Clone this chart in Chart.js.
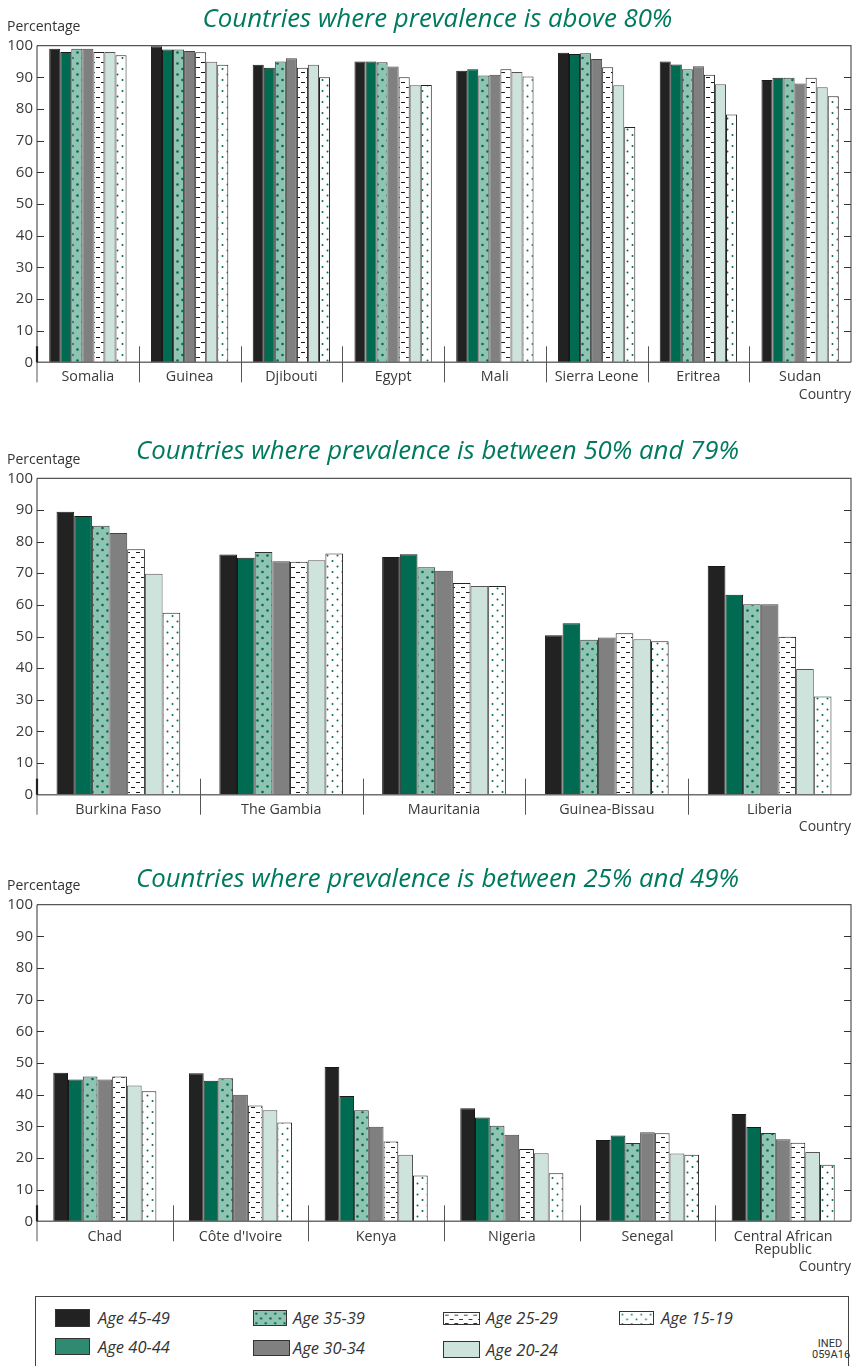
<!DOCTYPE html>
<html>
<head>
<meta charset="utf-8">
<script src="https://cdn.jsdelivr.net/npm/chart.js@4.4.1/dist/chart.umd.min.js"></script>
<style>
  html, body { margin: 0; padding: 0; background: #fff; }
  body { width: 852px; height: 1366px; position: relative; overflow: hidden; font-family: 'Open Sans', 'Noto Sans', sans-serif; }
  canvas.chart { position: absolute; left: 0; }
  .title { position: absolute; left: 0; width: 875px; text-align: center; font-style: italic; color: #007a5e; font-size: 25.8px; line-height: 30px; white-space: nowrap; }
  .ylab { position: absolute; left: 7px; font-size: 14px; line-height: 16px; color: #333; }
  #legend { position: absolute; left: 35px; top: 1296px; width: 814px; height: 90px; border: 1.5px solid #444; box-sizing: border-box; }
  .sw { position: absolute; box-sizing: border-box; border: 1px solid #333; }
  .lt { position: absolute; font-style: italic; font-size: 16.5px; line-height: 18px; color: #333; white-space: nowrap; }
  .ined { position: absolute; font-family: 'Liberation Sans Narrow', 'Roboto', sans-serif; font-size: 11px; line-height: 11px; color: #333; text-align: center; }
</style>
</head>
<body>
<canvas id="c1" class="chart" width="852" height="415" style="top:0px"></canvas>
<canvas id="c2" class="chart" width="852" height="430" style="top:415px"></canvas>
<canvas id="c3" class="chart" width="852" height="440" style="top:845px"></canvas>

<div class="title" style="top:2px">Countries where prevalence is above 80%</div>
<div class="title" style="top:434px">Countries where prevalence is between 50% and 79%</div>
<div class="title" style="top:862px">Countries where prevalence is between 25% and 49%</div>
<div class="ylab" style="top:18px">Percentage</div>
<div class="ylab" style="top:451px">Percentage</div>
<div class="ylab" style="top:877px">Percentage</div>

<div id="legend"></div>

<script>
// ---------- DATA ----------
const ageGroups = ['Age 45-49', 'Age 40-44', 'Age 35-39', 'Age 30-34', 'Age 25-29', 'Age 20-24', 'Age 15-19'];
const yTicks = [0, 10, 20, 30, 40, 50, 60, 70, 80, 90, 100];

// Panel 1: prevalence above 80%
const countries1 = ['Somalia', 'Guinea', 'Djibouti', 'Egypt', 'Mali', 'Sierra Leone', 'Eritrea', 'Sudan'];
const p1_age4549 = [99, 99.8, 94, 95, 92.1, 97.8, 95, 89.2];
const p1_age4044 = [98, 98.8, 93, 95, 92.6, 97.4, 94.1, 89.9];
const p1_age3539 = [99, 98.8, 95, 94.8, 90.6, 97.6, 92.6, 89.9];
const p1_age3034 = [99, 98.3, 96, 93.4, 90.8, 95.8, 93.5, 88.1];
const p1_age2529 = [98, 97.9, 93, 90, 92.6, 93.2, 90.8, 89.9];
const p1_age2024 = [98, 94.9, 94, 87.5, 91.7, 87.5, 87.8, 86.9];
const p1_age1519 = [97, 94, 90, 87.6, 90.3, 74.3, 78.3, 84];

// Panel 2: prevalence between 50% and 79%
const countries2 = ['Burkina Faso', 'The Gambia', 'Mauritania', 'Guinea-Bissau', 'Liberia'];
const p2_age4549 = [89.4, 75.9, 75.1, 50.4, 72.3];
const p2_age4044 = [88.1, 74.9, 76.0, 54.2, 63.2];
const p2_age3539 = [85.0, 76.7, 71.9, 49.0, 60.2];
const p2_age3034 = [82.7, 73.8, 70.8, 49.7, 60.2];
const p2_age2529 = [77.6, 73.6, 66.9, 51.0, 49.9];
const p2_age2024 = [69.8, 74.1, 66.0, 49.1, 39.7];
const p2_age1519 = [57.5, 76.2, 66.0, 48.5, 31.0];

// Panel 3: prevalence between 25% and 49%
const countries3 = ['Chad', "Côte d'Ivoire", 'Kenya', 'Nigeria', 'Senegal', ['Central African', 'Republic']];
const p3_age4549 = [46.9, 46.8, 48.7, 35.7, 25.7, 33.9];
const p3_age4044 = [44.8, 44.4, 39.6, 32.8, 27.1, 29.8];
const p3_age3539 = [45.7, 45.2, 35.1, 30.2, 24.7, 27.9];
const p3_age3034 = [44.8, 40.0, 29.9, 27.3, 28.1, 25.9];
const p3_age2529 = [45.7, 36.6, 25.2, 22.8, 27.8, 24.8];
const p3_age2024 = [42.9, 35.1, 21.0, 21.5, 21.4, 21.9];
const p3_age1519 = [41.1, 31.2, 14.5, 15.2, 21.0, 17.9];

// ---------- STYLES ----------
function tile(w, h, draw) {
  const c = document.createElement('canvas');
  c.width = w; c.height = h;
  const g = c.getContext('2d');
  draw(g);
  return c;
}
function dots(bg, col, r, pts) {
  return tile(10, 11, g => {
    g.fillStyle = bg; g.fillRect(0, 0, 10, 11);
    g.fillStyle = col;
    pts.forEach(([x, y]) => { g.beginPath(); g.arc(x, y, r, 0, Math.PI * 2); g.fill(); });
  });
}
const tile3539 = dots('#8fc4b3', '#006b50', 1.3, [[2.5, 3], [7.5, 8.5]]);
const tile1519 = dots('#ffffff', '#006b50', 1.0, [[2.5, 3], [7.5, 8.5]]);
const tile2529 = tile(10, 10, g => {
  g.fillStyle = '#fff'; g.fillRect(0, 0, 10, 10);
  g.fillStyle = '#1a1a1a';
  g.fillRect(1, 2, 4, 1);
  g.fillRect(6, 7, 4, 1);
});
const pctx = document.createElement('canvas').getContext('2d');
const fills = [
  '#222222',
  '#006b50',
  pctx.createPattern(tile3539, 'repeat'),
  '#808080',
  pctx.createPattern(tile2529, 'repeat'),
  '#cde3dc',
  pctx.createPattern(tile1519, 'repeat')
];
const borders = ['#1a1a1a', '#1a1a1a', '#333', '#444', '#222', '#555', '#222'];

function datasets(series) {
  return series.map((d, i) => ({
    label: ageGroups[i],
    data: d,
    backgroundColor: fills[i],
    borderColor: borders[i],
    borderWidth: 1,
    borderSkipped: 'start',
    barPercentage: 1,
    categoryPercentage: 0.76
  }));
}

const framePlugin = {
  id: 'frame',
  afterDatasetsDraw(chart) {
    const { ctx, chartArea: { left, right, top, bottom }, scales: { x, y } } = chart;
    ctx.save();
    ctx.strokeStyle = '#555';
    ctx.lineWidth = 1.2;
    ctx.beginPath();
    ctx.moveTo(left, top); ctx.lineTo(right, top); ctx.lineTo(right, bottom);
    ctx.stroke();
    ctx.strokeStyle = '#333';
    ctx.lineWidth = 1;
    ctx.beginPath();
    ctx.moveTo(left, top); ctx.lineTo(left, bottom);
    ctx.stroke();
    ctx.beginPath();
    yTicks.forEach(v => {
      if (v === 0 || v === 100) return;
      const py = Math.round(y.getPixelForValue(v)) + 0.5;
      ctx.moveTo(left, py); ctx.lineTo(left + 7, py);
      ctx.moveTo(right, py); ctx.lineTo(right - 7, py);
    });
    ctx.stroke();
    ctx.strokeStyle = '#6f6f6f';
    ctx.lineWidth = 1.6;
    ctx.beginPath();
    ctx.moveTo(left, bottom); ctx.lineTo(right, bottom);
    ctx.stroke();
    ctx.strokeStyle = '#555';
    ctx.lineWidth = 1;
    ctx.beginPath();
    const n = chart.data.labels.length;
    for (let i = 0; i < n; i++) {
      const px = i === 0 ? left : Math.round((x.getPixelForValue(i - 1) + x.getPixelForValue(i)) / 2) + 0.5;
      ctx.moveTo(px, bottom - 16); ctx.lineTo(px, bottom + 20);
    }
    ctx.stroke();
    ctx.strokeStyle = '#222';
    ctx.lineWidth = 2.2;
    ctx.beginPath();
    ctx.moveTo(left, bottom - 16); ctx.lineTo(left, bottom);
    ctx.stroke();
    ctx.restore();
  }
};

function makeChart(id, labels, series, cfg) {
  const canvas = document.getElementById(id);
  const H = canvas.height;
  return new Chart(canvas, {
    type: 'bar',
    data: { labels: labels, datasets: datasets(series) },
    options: {
      responsive: false,
      animation: false,
      devicePixelRatio: 1,
      events: [],
      layout: { padding: { top: cfg.plotTop, right: 1, left: 0, bottom: 0 } },
      plugins: { legend: { display: false }, tooltip: { enabled: false }, title: { display: false } },
      scales: {
        x: {
          type: 'category',
          offset: true,
          grid: { display: false, drawTicks: false },
          border: { display: false },
          ticks: {
            color: '#3a3a3a',
            padding: cfg.labelPad,
            maxRotation: 0,
            autoSkip: false,
            font: { family: "'Open Sans', sans-serif", size: 14.3, lineHeight: cfg.lineHeight }
          },
          title: {
            display: true,
            text: 'Country',
            align: 'end',
            color: '#3a3a3a',
            font: { family: "'Open Sans', sans-serif", size: 14, lineHeight: 1.2 },
            padding: { top: 0, bottom: cfg.countryPad }
          },
          afterFit: s => { s.height = H - cfg.plotBottom; }
        },
        y: {
          min: 0, max: 100,
          grid: { display: false, drawTicks: false },
          border: { display: false },
          ticks: {
            stepSize: 10,
            padding: 4,
            color: '#3a3a3a',
            font: { family: "'Open Sans', sans-serif", size: 15 }
          },
          afterFit: s => { s.width = 37; }
        }
      }
    },
    plugins: [framePlugin]
  });
}

makeChart('c1', countries1,
  [p1_age4549, p1_age4044, p1_age3539, p1_age3034, p1_age2529, p1_age2024, p1_age1519],
  { plotTop: 45.7, plotBottom: 362.3, labelPad: 6.3, lineHeight: 1.2, countryPad: 11.6 });
makeChart('c2', countries2,
  [p2_age4549, p2_age4044, p2_age3539, p2_age3034, p2_age2529, p2_age2024, p2_age1519],
  { plotTop: 63.3, plotBottom: 379.7, labelPad: 6.8, lineHeight: 1.2, countryPad: 9.9 });
makeChart('c3', countries3,
  [p3_age4549, p3_age4044, p3_age3539, p3_age3034, p3_age2529, p3_age2024, p3_age1519],
  { plotTop: 59.7, plotBottom: 376.3, labelPad: 8.7, lineHeight: 0.95, countryPad: 9.9 });

// ---------- LEGEND (HTML) ----------
const legendFills = ['#222222', '#2e8b71', tile3539, '#808080', tile2529, '#cde3dc', tile1519];
const legendPos = [
  { sx: 55, sy: 1309, sw: 35, sh: 18, tx: 98, ty: 1318 },
  { sx: 55, sy: 1338, sw: 35, sh: 17, tx: 98, ty: 1347 },
  { sx: 253, sy: 1310, sw: 34, sh: 16, tx: 293, ty: 1318 },
  { sx: 253, sy: 1340, sw: 37, sh: 16, tx: 293, ty: 1348 },
  { sx: 443, sy: 1312, sw: 37, sh: 13, tx: 486, ty: 1318 },
  { sx: 443, sy: 1341, sw: 37, sh: 17, tx: 486, ty: 1350 },
  { sx: 619, sy: 1311, sw: 35, sh: 14, tx: 661, ty: 1318 }
];
ageGroups.forEach((name, i) => {
  const p = legendPos[i];
  const c = document.createElement('canvas');
  c.width = p.sw; c.height = p.sh;
  c.className = 'sw';
  c.style.left = p.sx + 'px'; c.style.top = p.sy + 'px';
  c.style.width = p.sw + 'px'; c.style.height = p.sh + 'px';
  const g = c.getContext('2d');
  const f = legendFills[i];
  g.fillStyle = (typeof f === 'string') ? f : g.createPattern(f, 'repeat');
  g.fillRect(0, 0, p.sw, p.sh);
  document.body.appendChild(c);
  const t = document.createElement('div');
  t.className = 'lt';
  t.textContent = name;
  t.style.left = p.tx + 'px';
  t.style.top = (p.ty - 9) + 'px';
  document.body.appendChild(t);
});
const ined = document.createElement('div');
ined.className = 'ined';
ined.style.left = '812px'; ined.style.top = '1338px'; ined.style.width = '36px';
ined.innerHTML = 'INED<br>059A16';
document.body.appendChild(ined);
</script>
</body>
</html>
